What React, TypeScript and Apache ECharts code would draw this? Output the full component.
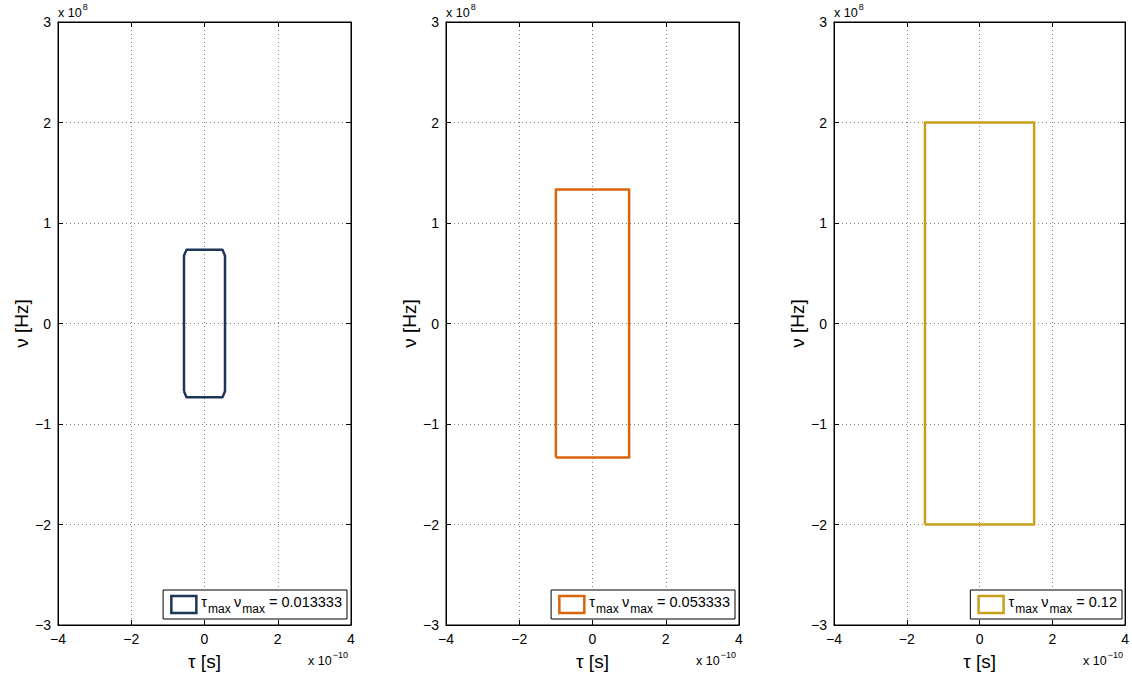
import React, { useEffect, useRef } from "react";
import * as echarts from "echarts";

// Ambiguity-function support regions, τ in units of 1e-10 s, ν in units of 1e8 Hz
const tau1 = [-0.56, -0.56, -0.49, 0.49, 0.56, 0.56, 0.49, -0.49, -0.56];
const nu1 = [-0.675, 0.675, 0.735, 0.735, 0.675, -0.675, -0.735, -0.735, -0.675];
const tau2 = [-1.0, -1.0, 1.0, 1.0, -1.0];
const nu2 = [-1.333, 1.333, 1.333, -1.333, -1.333];
const tau3 = [-1.5, -1.5, 1.5, 1.5, -1.5];
const nu3 = [-2.0, 2.0, 2.0, -2.0, -2.0];

const products = ["0.013333", "0.053333", "0.12"];
const colors = ["#1d3556", "#d9660c", "#c9a01c"];

const panels = [
  { tau: tau1, nu: nu1, left: 58, width: 293 },
  { tau: tau2, nu: nu2, left: 446, width: 293 },
  { tau: tau3, nu: nu3, left: 834, width: 292 },
];

const W = 1132;
const H = 676;
const TOP = 22;
const BOTTOM = 626;
const FONT = "Liberation Sans, Arial, sans-serif";

const fmt = (v: number) => (v < 0 ? "\u2212" + Math.abs(v) : String(v));

export default function App() {
  const ref = useRef<HTMLDivElement>(null);

  useEffect(() => {
    if (!ref.current) return;
    const chart = echarts.init(ref.current, undefined, { renderer: "svg" });

    const grids: any[] = [];
    const xAxes: any[] = [];
    const yAxes: any[] = [];
    const series: any[] = [];
    const legends: any[] = [];
    const graphics: any[] = [];

    const gridLine = { show: true, lineStyle: { color: "#808080", type: [1, 3], width: 1 } };
    const tick = { show: true, inside: true, length: 5, lineStyle: { color: "#000" } };
    const axisLine = { show: true, onZero: false, lineStyle: { color: "#000", width: 1 } };
    const labelStyle = { color: "#000", fontSize: 14, fontFamily: FONT };

    panels.forEach((p, i) => {
      const name = "\u03c4max \u03bdmax = " + products[i];
      grids.push({
        left: p.left,
        top: TOP,
        width: p.width,
        height: BOTTOM - TOP,
        show: true,
        backgroundColor: "#fff",
        borderColor: "#000",
        borderWidth: 1,
      });
      // bottom axis with labels and title
      xAxes.push({
        type: "value",
        gridIndex: i,
        min: -4,
        max: 4,
        interval: 2,
        position: "bottom",
        axisLine,
        axisTick: tick,
        splitLine: gridLine,
        axisLabel: { ...labelStyle, margin: 7, formatter: fmt },
        name: "\u03c4 [s]",
        nameLocation: "middle",
        nameGap: 27,
        nameTextStyle: { color: "#000", fontSize: 19, fontFamily: FONT },
      });
      // top axis: ticks only
      xAxes.push({
        type: "value",
        gridIndex: i,
        min: -4,
        max: 4,
        interval: 2,
        position: "top",
        axisLine,
        axisTick: tick,
        splitLine: { show: false },
        axisLabel: { show: false },
      });
      yAxes.push({
        type: "value",
        gridIndex: i,
        min: -3,
        max: 3,
        interval: 1,
        position: "left",
        axisLine,
        axisTick: tick,
        splitLine: gridLine,
        axisLabel: { ...labelStyle, margin: 7, formatter: fmt },
        name: "\u03bd [Hz]",
        nameLocation: "middle",
        nameGap: 24,
        nameRotate: 90,
        nameTextStyle: { color: "#000", fontSize: 19, fontFamily: FONT },
      });
      yAxes.push({
        type: "value",
        gridIndex: i,
        min: -3,
        max: 3,
        interval: 1,
        position: "right",
        axisLine,
        axisTick: tick,
        splitLine: { show: false },
        axisLabel: { show: false },
      });

      series.push({
        type: "line",
        name,
        xAxisIndex: i * 2,
        yAxisIndex: i * 2,
        data: p.tau.map((t, k) => [t, p.nu[k]]),
        showSymbol: false,
        symbol: "none",
        clip: false,
        lineStyle: { color: colors[i], width: 2.5, join: "round" },
        itemStyle: { color: colors[i] },
        z: 5,
      });

      const right = p.left + p.width;
      legends.push({
        data: [{ name, icon: "rect" }],
        right: W - (right - 4),
        bottom: H - 619,
        orient: "horizontal",
        backgroundColor: "#fff",
        borderColor: "#000",
        borderWidth: 1,
        borderRadius: 0,
        padding: [4, 5, 4, 7],
        itemWidth: 25,
        itemHeight: 17,
        itemGap: 6,
        selectedMode: false,
        itemStyle: { color: "#fff", borderColor: colors[i], borderWidth: 2.5 },
        formatter: () => "{a|\u03c4}{b|max} {a|\u03bd}{b|max}{a| = " + products[i] + "}",
        textStyle: {
          color: "#000",
          fontFamily: FONT,
          rich: {
            a: { fontSize: 14.5, fontFamily: FONT, color: "#000", verticalAlign: "bottom", padding: [0, 0, 6, 0] },
            b: { fontSize: 12, fontFamily: FONT, color: "#000", verticalAlign: "bottom", padding: [0, 0, 0, 1] },
          },
        },
      });

      // axis exponent annotations
      graphics.push({
        type: "text",
        left: p.left,
        top: 2,
        style: {
          text: "{a|x 10}{b|8}",
          rich: {
            a: { fontSize: 12.5, fontFamily: FONT, fill: "#000", verticalAlign: "bottom", padding: [6, 0, 0, 0] },
            b: { fontSize: 9, fontFamily: FONT, fill: "#000", verticalAlign: "bottom", padding: [0, 0, 8, 1] },
          },
        },
      });
      graphics.push({
        type: "text",
        left: right - 43,
        top: 650,
        style: {
          text: "{a|x 10}{b|\u221210}",
          rich: {
            a: { fontSize: 12.5, fontFamily: FONT, fill: "#000", verticalAlign: "bottom", padding: [6, 0, 0, 0] },
            b: { fontSize: 9, fontFamily: FONT, fill: "#000", verticalAlign: "bottom", padding: [0, 0, 8, 1] },
          },
        },
      });
    });

    chart.setOption({
      animation: false,
      backgroundColor: "#fff",
      textStyle: { fontFamily: FONT },
      grid: grids,
      xAxis: xAxes,
      yAxis: yAxes,
      series,
      legend: legends,
      graphic: graphics,
    });

    return () => chart.dispose();
  }, []);

  return (
    <div
      ref={ref}
      style={{ position: "fixed", left: 0, top: 0, width: W, height: H, background: "#fff" }}
    />
  );
}
